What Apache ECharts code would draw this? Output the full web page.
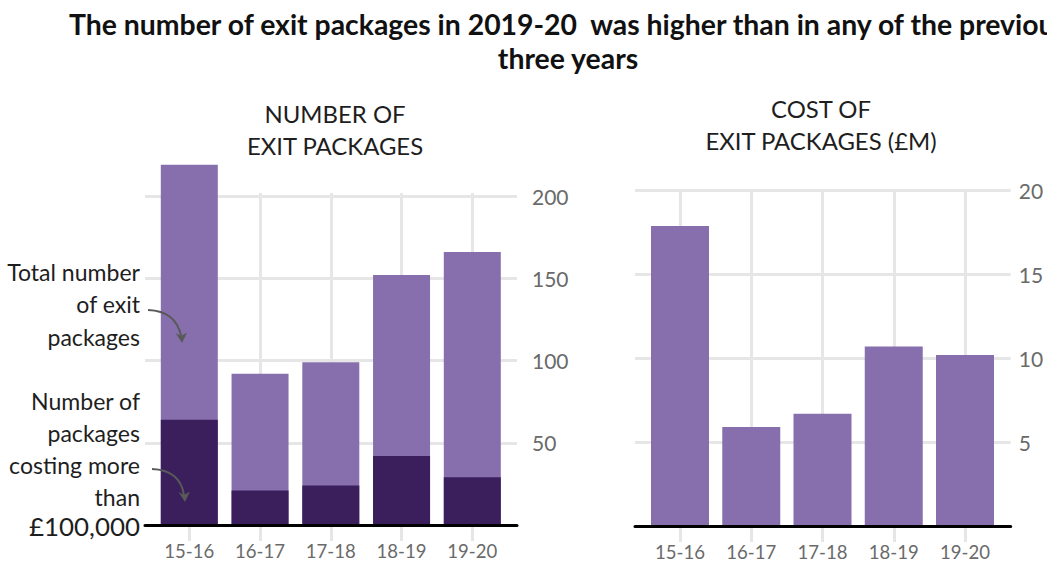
<!DOCTYPE html>
<html><head><meta charset="utf-8">
<script src="https://cdn.jsdelivr.net/npm/echarts/dist/echarts.min.js"></script>
<style>html,body{margin:0;padding:0;background:#fff;overflow:hidden;} #chart{width:1047px;height:562px;}</style>
</head><body><div id="chart"></div>
<script>
// ---- data ----
const categories = ['15-16', '16-17', '17-18', '18-19', '19-20'];
const totalPackages = [219, 92, 99, 152, 166];
const packagesOver100k = [64, 21, 24, 42, 29];
const costMillions = [17.9, 5.9, 6.7, 10.7, 10.2];
const leftTickMax = 200, leftTickStep = 50;
const rightTickMax = 20, rightTickStep = 5;

const titleLines = ['The number of exit packages in 2019-20  was higher than in any of the previous', 'three years'];
const leftPanelTitle = 'NUMBER OF\nEXIT PACKAGES';
const rightPanelTitle = 'COST OF\nEXIT PACKAGES (£M)';
const noteTotal = 'Total number\nof exit\npackages';
const noteOver = 'Number of\npackages\ncosting more\nthan';
const noteOverAmount = '£100,000';

// ---- style ----
const FONT = 'Lato';
const LIGHT = '#876fae';
const DARK = '#3a1f5c';
const GRID = '#e6e6e6';
const LABEL = '#6a6a6a';
const TEXT = '#1e1e1e';

function fitSize(text, weight, target, base) {
  const c = document.createElement('canvas').getContext('2d');
  c.font = weight + ' ' + base + 'px ' + FONT;
  return base * target / c.measureText(text).width;
}
const titleSize = fitSize(titleLines[0], 'bold', 1002, 24);
const panelSize = fitSize('EXIT PACKAGES', 'normal', 177, 20);
const noteSize = fitSize('costing more', 'normal', 131, 20);
const amountSize = fitSize(noteOverAmount, 'normal', 111, 24);
const catSize = Math.min(23, fitSize('15-16', 'normal', 50, 20));

const chart = echarts.init(document.getElementById('chart'), null, {renderer: 'svg'});

const catLabel = {fontSize: catSize, color: LABEL, fontFamily: FONT, margin: 16};

const option = {
  animation: false,
  grid: [
    {left: 145, right: 530, top: 196, bottom: 37},
    {left: 189.3, right: 574.7, top: 193, bottom: 37},
    {left: 635, right: 36.3, top: 190.7, bottom: 36},
    {left: 680, right: 82, top: 190.7, bottom: 36}
  ],
  xAxis: [
    {gridIndex: 0, type: 'value', min: 0, max: 1, z: 5,
      axisLine: {show: true, onZero: false, lineStyle: {color: '#000', width: 3}},
      axisTick: {show: false}, axisLabel: {show: false}, splitLine: {show: false}},
    {gridIndex: 1, type: 'category', data: categories, boundaryGap: false,
      axisLine: {show: false},
      axisTick: {show: true, length: 16, lineStyle: {color: GRID, width: 3}},
      splitLine: {show: true, lineStyle: {color: GRID, width: 3}},
      axisLabel: catLabel},
    {gridIndex: 2, type: 'value', min: 0, max: 1, z: 5,
      axisLine: {show: true, onZero: false, lineStyle: {color: '#000', width: 3}},
      axisTick: {show: false}, axisLabel: {show: false}, splitLine: {show: false}},
    {gridIndex: 3, type: 'category', data: categories, boundaryGap: false,
      axisLine: {show: false},
      axisTick: {show: true, length: 16, lineStyle: {color: GRID, width: 3}},
      splitLine: {show: true, lineStyle: {color: GRID, width: 3}},
      axisLabel: catLabel}
  ],
  yAxis: [
    {gridIndex: 0, type: 'value', min: 0, max: leftTickMax, interval: leftTickStep, position: 'right',
      axisLine: {show: false}, axisTick: {show: false},
      splitLine: {show: true, lineStyle: {color: GRID, width: 3}},
      axisLabel: {showMinLabel: false, margin: 15, fontSize: 21, color: LABEL, fontFamily: FONT, padding: [0, 0, 5, 0]}},
    {gridIndex: 1, type: 'value', min: 0, max: leftTickMax * (525 - 193) / (525 - 196), show: false},
    {gridIndex: 2, type: 'value', min: 0, max: rightTickMax, interval: rightTickStep, position: 'right',
      axisLine: {show: false}, axisTick: {show: false},
      splitLine: {show: true, lineStyle: {color: GRID, width: 3}},
      axisLabel: {showMinLabel: false, margin: 8, fontSize: 21, color: LABEL, fontFamily: FONT, padding: [0, 0, 2, 0]}},
    {gridIndex: 3, type: 'value', min: 0, max: rightTickMax, show: false}
  ],
  series: [
    {type: 'bar', xAxisIndex: 1, yAxisIndex: 1, data: totalPackages, barWidth: 57, barGap: '-100%',
      clip: false, itemStyle: {color: LIGHT}},
    {type: 'bar', xAxisIndex: 1, yAxisIndex: 1, data: packagesOver100k, barWidth: 57, barGap: '-100%',
      clip: false, itemStyle: {color: DARK}},
    {type: 'bar', xAxisIndex: 3, yAxisIndex: 3, data: costMillions, barWidth: 58,
      clip: false, itemStyle: {color: LIGHT}}
  ],
  graphic: [
    {type: 'text', x: 568, y: 41, style: {text: titleLines.join('\n'), fontSize: titleSize, fontWeight: 'bold',
      fontFamily: FONT, fill: '#111', align: 'center', textAlign: 'center', verticalAlign: 'middle', textVerticalAlign: 'middle', lineHeight: 34}},
    {type: 'text', x: 335, y: 129, style: {text: leftPanelTitle, fontSize: panelSize, fontFamily: FONT, fill: TEXT,
      align: 'center', textAlign: 'center', verticalAlign: 'middle', textVerticalAlign: 'middle', lineHeight: 32}},
    {type: 'text', x: 821, y: 124.5, style: {text: rightPanelTitle, fontSize: panelSize, fontFamily: FONT, fill: TEXT,
      align: 'center', textAlign: 'center', verticalAlign: 'middle', textVerticalAlign: 'middle', lineHeight: 32}},
    {type: 'text', x: 140, y: 304, style: {text: noteTotal, fontSize: noteSize, fontFamily: FONT, fill: TEXT,
      align: 'right', textAlign: 'right', verticalAlign: 'middle', textVerticalAlign: 'middle', lineHeight: 32.5}},
    {type: 'text', x: 140, y: 449, style: {text: noteOver, fontSize: noteSize, fontFamily: FONT, fill: TEXT,
      align: 'right', textAlign: 'right', verticalAlign: 'middle', textVerticalAlign: 'middle', lineHeight: 31.7}},
    {type: 'text', x: 140, y: 526, style: {text: noteOverAmount, fontSize: amountSize, fontFamily: FONT, fill: TEXT,
      align: 'right', textAlign: 'right', verticalAlign: 'middle', textVerticalAlign: 'middle'}},
    {type: 'bezierCurve', shape: {x1: 148, y1: 310, cpx1: 176, cpy1: 311, x2: 181, y2: 336},
      style: {stroke: '#595959', lineWidth: 2, fill: null}, z: 50},
    {type: 'polygon', shape: {points: [[175.5, 333], [182, 343], [187, 332.5], [181, 336]]},
      style: {fill: '#595959'}, z: 50},
    {type: 'bezierCurve', shape: {x1: 152, y1: 469, cpx1: 180, cpy1: 470, x2: 184, y2: 495},
      style: {stroke: '#595959', lineWidth: 2, fill: null}, z: 50},
    {type: 'polygon', shape: {points: [[178.5, 492], [185, 502], [190, 491.5], [184, 495]]},
      style: {fill: '#595959'}, z: 50}
  ]
};
chart.setOption(option);
</script>
</body></html>
